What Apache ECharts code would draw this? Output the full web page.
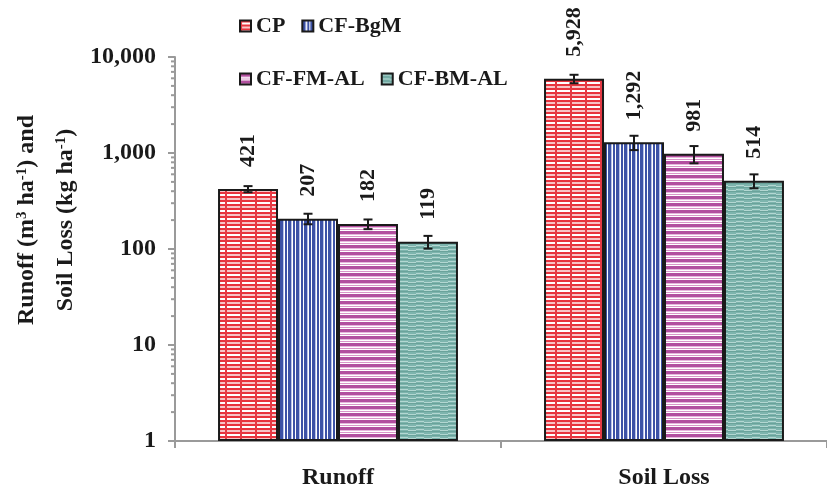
<!DOCTYPE html>
<html>
<head>
<meta charset="utf-8">
<script src="https://cdn.jsdelivr.net/npm/echarts@6/dist/echarts.min.js"></script>
<style>
  html, body { margin: 0; padding: 0; background: #fff; }
  #chart { width: 827px; height: 495px; }
</style>
</head>
<body>
<div id="chart"></div>
<script>
// Categories and treatments
const categories = ['Runoff', 'Soil Loss'];
const seriesNames = ['CP', 'CF-BgM', 'CF-FM-AL', 'CF-BM-AL'];

// Mean values (runoff in m3/ha, soil loss in kg/ha)
const cpValues = [421, 5928];
const bgmValues = [207, 1292];
const fmValues = [182, 981];
const bmValues = [119, 514];

// Standard errors
const cpErr = [31, 600];
const bgmErr = [26, 220];
const fmErr = [21, 200];
const bmErr = [18, 85];

// Y axis range (log scale) and minor tick values
const yMin = 1;
const yMax = 10000;
const minorTickValues = [
  2, 3, 4, 5, 6, 7, 8, 9,
  20, 30, 40, 50, 60, 70, 80, 90,
  200, 300, 400, 500, 600, 700, 800, 900,
  2000, 3000, 4000, 5000, 6000, 7000, 8000, 9000
];

const FONT = '"Liberation Serif", "Times New Roman", serif';
const AXIS_GREY = '#9a9a9a';

// Fill patterns for the bars
function makePattern(w, h, draw) {
  const c = document.createElement('canvas');
  c.width = w; c.height = h;
  const g = c.getContext('2d');
  draw(g);
  return { image: c, repeat: 'repeat' };
}

const cpFill = makePattern(15, 8, g => {
  g.fillStyle = '#ffffff'; g.fillRect(0, 0, 15, 8);
  g.fillStyle = '#e8333d'; g.fillRect(0, 0, 15, 2); g.fillRect(0, 4, 15, 2);
  g.fillStyle = '#f7c3c6'; g.fillRect(0, 6, 15, 2);
  g.fillStyle = '#e53a44'; g.fillRect(0, 0, 2, 8);
});
const bgmFill = makePattern(8, 1, g => {
  g.fillStyle = '#3c52a6'; g.fillRect(0, 0, 8, 1);
  g.fillStyle = '#b7c1e6'; g.fillRect(3, 0, 1, 1);
  g.fillStyle = '#ffffff'; g.fillRect(4, 0, 1, 1); g.fillRect(7, 0, 1, 1);
});
const fmFill = makePattern(1, 7, g => {
  g.fillStyle = '#b24f9f'; g.fillRect(0, 0, 1, 7);
  g.fillStyle = '#e6b6dc'; g.fillRect(0, 3, 1, 1);
  g.fillStyle = '#ffffff'; g.fillRect(0, 4, 1, 1); g.fillRect(0, 6, 1, 1);
  g.fillStyle = '#d996c9'; g.fillRect(0, 5, 1, 1);
});
const bmFill = makePattern(16, 4, g => {
  g.fillStyle = '#7db4ad'; g.fillRect(0, 0, 16, 4);
  g.fillStyle = '#b3d7d2';
  for (let x = 0; x < 16; x++) {
    g.fillRect(x, x < 8 ? 1 : 2, 1, 1);
  }
  g.fillStyle = '#6aa39b'; g.fillRect(0, 3, 16, 1);
});

const fills = [cpFill, bgmFill, fmFill, bmFill];
const values = [cpValues, bgmValues, fmValues, bmValues];
const errors = [cpErr, bgmErr, fmErr, bmErr];

const CATEGORY_GAP = 0.264;

function fmt(v) {
  return Number(v).toLocaleString('en-US');
}

const barSeries = seriesNames.map((name, i) => ({
  name: name,
  type: 'bar',
  data: values[i],
  barGap: '0%',
  barCategoryGap: (CATEGORY_GAP * 100) + '%',
  itemStyle: { color: fills[i], borderColor: '#1a1a1a', borderWidth: 2 },
  emphasis: { disabled: true },
  label: {
    show: true,
    position: 'top',
    rotate: 90,
    align: 'left',
    verticalAlign: 'middle',
    distance: 22,
    formatter: p => fmt(p.value),
    fontFamily: FONT,
    fontWeight: 'bold',
    fontSize: 22,
    color: '#1a1a1a'
  },
  z: 2
}));

// Error bars drawn at each bar's centre
const errorSeries = seriesNames.map((name, i) => ({
  type: 'custom',
  name: name + ' error',
  z: 5,
  silent: true,
  data: values[i].map((v, k) => [k, v - errors[i][k], v + errors[i][k]]),
  encode: { x: 0, y: [1, 2] },
  renderItem: (params, api) => {
    const band = api.size([1, 0])[0];
    const group = band * (1 - CATEGORY_GAP);
    const bw = group / seriesNames.length;
    const low = api.coord([api.value(0), api.value(1)]);
    const high = api.coord([api.value(0), api.value(2)]);
    const x = low[0] - group / 2 + (i + 0.5) * bw;
    const half = 4.5;
    const style = { stroke: '#1a1a1a', lineWidth: 2, fill: null };
    return {
      type: 'group',
      children: [
        { type: 'line', shape: { x1: x, y1: low[1], x2: x, y2: high[1] }, style },
        { type: 'line', shape: { x1: x - half, y1: low[1], x2: x + half, y2: low[1] }, style },
        { type: 'line', shape: { x1: x - half, y1: high[1], x2: x + half, y2: high[1] }, style }
      ]
    };
  }
}));

// Logarithmic minor ticks on the value axis
const minorTickSeries = {
  type: 'custom',
  name: 'minor ticks',
  silent: true,
  z: 1,
  data: minorTickValues.map(v => [0, v]),
  encode: { x: 0, y: 1 },
  renderItem: (params, api) => {
    const y = api.coord([0, api.value(1)])[1];
    const x = params.coordSys.x;
    return {
      type: 'line',
      shape: { x1: x - 4, y1: y, x2: x, y2: y },
      style: { stroke: AXIS_GREY, lineWidth: 2 }
    };
  }
};

const legendBase = {
  orient: 'horizontal',
  itemWidth: 11,
  itemHeight: 11,
  itemGap: 16,
  icon: 'rect',
  selectedMode: false,
  textStyle: {
    fontFamily: FONT, fontWeight: 'bold', fontSize: 22, color: '#1a1a1a',
    width: 112, padding: [0, 0, 0, 0]
  }
};

const chart = echarts.init(document.getElementById('chart'), null, { renderer: 'canvas' });
chart.setOption({
  animation: false,
  backgroundColor: '#ffffff',
  grid: { left: 175, top: 57, bottom: 54, width: 652, containLabel: false },
  legend: [
    Object.assign({}, legendBase, { data: [seriesNames[0], seriesNames[1]], left: 234, top: 10 }),
    Object.assign({}, legendBase, { data: [seriesNames[2], seriesNames[3]], left: 234, top: 63 })
  ],
  xAxis: {
    type: 'category',
    data: categories,
    axisLine: { lineStyle: { color: AXIS_GREY, width: 2 } },
    axisTick: { show: true, length: 7, lineStyle: { color: AXIS_GREY, width: 2 } },
    axisLabel: {
      fontFamily: FONT, fontWeight: 'bold', fontSize: 24, color: '#1a1a1a', margin: 25
    }
  },
  yAxis: {
    type: 'log',
    logBase: 10,
    min: yMin,
    max: yMax,
    axisLine: { show: true, lineStyle: { color: AXIS_GREY, width: 2 } },
    axisTick: { show: true, length: 7, lineStyle: { color: AXIS_GREY, width: 2 } },
    splitLine: { show: false },
    axisLabel: {
      fontFamily: FONT, fontWeight: 'bold', fontSize: 24, color: '#1a1a1a', margin: 19,
      formatter: v => fmt(v)
    }
  },
  graphic: [{
    type: 'text',
    x: 46,
    y: 220,
    rotation: Math.PI / 2,
    style: {
      text: '{b|Runoff (m}{sup|3}{b| ha}{sup|-1}{b|) and}\n{b|Soil Loss (kg ha}{sup|-1}{b|)}',
      align: 'center',
      verticalAlign: 'middle',
      fill: '#1a1a1a',
      rich: {
        b: { fontFamily: FONT, fontWeight: 'bold', fontSize: 24, lineHeight: 39, fill: '#1a1a1a' },
        sup: { fontFamily: FONT, fontWeight: 'bold', fontSize: 15, lineHeight: 39, verticalAlign: 'top', padding: [8, 0, 0, 0], fill: '#1a1a1a' }
      }
    }
  }],
  series: barSeries.concat(errorSeries, [minorTickSeries])
});
</script>
</body>
</html>
